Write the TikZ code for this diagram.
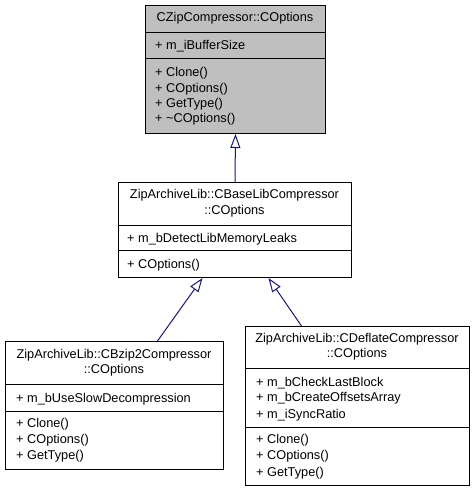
\documentclass[tikz,border=0pt]{standalone}
\usepackage{fontspec}
\setmainfont{Liberation Sans}
\usetikzlibrary{arrows.meta}
\definecolor{edgeblue}{HTML}{191970}
\definecolor{classgray}{HTML}{BFBFBF}

\begin{document}
\begin{tikzpicture}[x=1pt, y=-1pt,
  classbox/.style={draw=black, line width=1pt, inner sep=0pt, anchor=north west},
  member/.style={black, anchor=west, inner sep=0pt, font=\fontsize{12.75}{15.5}\selectfont, text height=10.5pt, text depth=1.5pt},
  title/.style={black, inner sep=0pt, align=center, font=\fontsize{12.75}{15.5}\selectfont},
  divider/.style={black, line width=1pt},
  inherit/.style={draw=edgeblue, line width=1pt, -{Triangle[open, length=14pt, width=10pt, fill=white]}}]
\useasboundingbox (0,0) rectangle (475,491);

% class boxes
\node[classbox, fill=classgray, minimum width=180pt, minimum height=128pt] (opts) at (145,5) {};
\node[classbox, fill=white, minimum width=233pt, minimum height=95pt] (base) at (118,182) {};
\node[classbox, fill=white, minimum width=218pt, minimum height=128pt] (bzip) at (5,341) {};
\node[classbox, fill=white, minimum width=224pt, minimum height=159pt] (deflate) at (245,326) {};

% compartments
\draw[divider] (opts.west |- 0,32) -- (opts.east |- 0,32);
\draw[divider] (opts.west |- 0,58) -- (opts.east |- 0,58);
\draw[divider] (base.west |- 0,225) -- (base.east |- 0,225);
\draw[divider] (base.west |- 0,250) -- (base.east |- 0,250);
\draw[divider] (bzip.west |- 0,384) -- (bzip.east |- 0,384);
\draw[divider] (bzip.west |- 0,411) -- (bzip.east |- 0,411);
\draw[divider] (deflate.west |- 0,368) -- (deflate.east |- 0,368);
\draw[divider] (deflate.west |- 0,427) -- (deflate.east |- 0,427);

% CZipCompressor::COptions
\node[title] (optsname) at (235,18) {CZipCompressor::COptions};
\node[member] (optsbuf) at (155,45) {+ m\_iBufferSize};
\node[member] (optsclone) at (155,72) {+ Clone()};
\node[member] (optsctor) at (155,88) {+ COptions()};
\node[member] (optstype) at (155,103) {+ GetType()};
\node[member] (optsdtor) at (155,118) {+ \char`~COptions()};

% CBaseLibCompressor::COptions
\node[title] (basename) at (234.5,203) {ZipArchiveLib::CBaseLibCompressor\\::COptions};
\node[member] (baseleaks) at (127,238) {+ m\_bDetectLibMemoryLeaks};
\node[member] (basector) at (127,264) {+ COptions()};

% CBzip2Compressor::COptions
\node[title] (bzipname) at (114,362.5) {ZipArchiveLib::CBzip2Compressor\\::COptions};
\node[member] (bzipslow) at (16,398) {+ m\_bUseSlowDecompression};
\node[member] (bzipclone) at (16,423) {+ Clone()};
\node[member] (bzipctor) at (16,439) {+ COptions()};
\node[member] (bziptype) at (16,455) {+ GetType()};

% CDeflateCompressor::COptions
\node[title] (deflatename) at (357,346.5) {ZipArchiveLib::CDeflateCompressor\\::COptions};
\node[member] (deflatecheck) at (256,382) {+ m\_bCheckLastBlock};
\node[member] (deflateoffsets) at (256,397) {+ m\_bCreateOffsetsArray};
\node[member] (deflatesync) at (256,414) {+ m\_iSyncRatio};
\node[member] (deflateclone) at (256,439) {+ Clone()};
\node[member] (deflatector) at (256,455) {+ COptions()};
\node[member] (deflatetype) at (256,472) {+ GetType()};

% inheritance
\draw[inherit] (base.north) -- (opts.south);
\draw[inherit] ([xshift=43pt]bzip.north) -- ([xshift=-32.5pt]base.south);
\draw[inherit] ([xshift=-56pt]deflate.north) -- ([xshift=33.5pt]base.south);
\end{tikzpicture}
\end{document}
